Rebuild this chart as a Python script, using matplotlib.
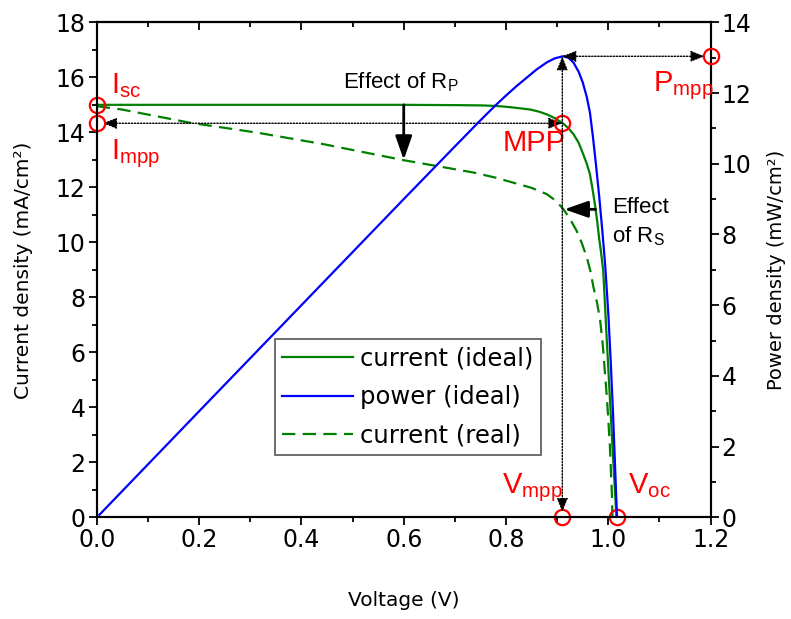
import matplotlib
matplotlib.use("Agg")
import matplotlib.pyplot as plt
from matplotlib.ticker import MultipleLocator

plt.rcParams["font.family"] = "DejaVu Sans"
plt.rcParams["mathtext.default"] = "regular"

# ideal diode curve (current density, mA/cm2)
v_ideal = [0.0, 0.2, 0.4, 0.6, 0.7, 0.75, 0.78, 0.80, 0.82, 0.847, 0.865, 0.880,
           0.896, 0.911, 0.922, 0.932, 0.942, 0.951, 0.958, 0.964, 0.969, 0.974,
           0.978, 0.982, 0.986, 0.990, 0.996, 1.002, 1.008, 1.013, 1.016]
j_ideal = [15.0, 15.0, 15.0, 15.0, 14.99, 14.98, 14.96, 14.93, 14.89, 14.83, 14.75, 14.65,
           14.51, 14.33, 14.15, 13.93, 13.62, 13.20, 12.85, 12.48, 11.95, 11.35,
           10.8, 10.15, 9.6, 8.97, 6.8, 4.7, 2.6, 0.95, 0.0]

# power density of the ideal cell (mW/cm2)
v_power = [0.005, 0.2, 0.4, 0.6, 0.7, 0.75, 0.78, 0.80, 0.82, 0.84, 0.86, 0.88,
           0.895, 0.911, 0.922, 0.932, 0.942, 0.950, 0.958, 0.964, 0.970, 0.976,
           0.982, 0.988, 0.994, 1.000, 1.005, 1.009, 1.013, 1.017]
p_ideal = [0.07, 3.0, 6.0, 9.0, 10.49, 11.23, 11.66, 11.93, 12.19, 12.43, 12.67, 12.87,
           12.98, 13.04, 13.0, 12.86, 12.6, 12.3, 11.88, 11.45, 10.75, 9.95,
           9.1, 8.15, 7.1, 5.75, 4.3, 3.0, 1.5, 0.0]

# cell with series / shunt resistance losses
v_real = [0.0, 0.049, 0.182, 0.313, 0.443, 0.599, 0.736, 0.78, 0.814, 0.85, 0.880,
          0.898, 0.912, 0.925, 0.938, 0.948, 0.958, 0.965, 0.971, 0.978, 0.984,
          0.989, 0.993, 0.997, 1.000, 1.003, 1.005, 1.007, 1.008]
j_real = [14.95, 14.83, 14.35, 13.99, 13.57, 12.99, 12.54, 12.35, 12.17, 11.98, 11.75,
          11.5, 11.21, 10.85, 10.42, 9.98, 9.45, 8.95, 8.36, 7.8, 7.16,
          6.3, 5.34, 4.4, 3.53, 2.6, 1.72, 0.85, 0.0]

# characteristic points
isc = 15.0
voc = 1.016
vmpp = 0.91
impp = 14.33
pmpp = 13.04

red = "#ff0000"
green = "#008000"
blue = "#0000ff"

fig = plt.figure(figsize=(7.91, 6.19), dpi=100)
ax = fig.add_axes([0.1224, 0.1643, 0.776, 0.7996])
ax2 = ax.twinx()

ax.set_xlim(0, 1.2)
ax.set_ylim(0, 18)
ax2.set_ylim(0, 14)

l1, = ax.plot(v_ideal, j_ideal, color=green, lw=1.6, label="current (ideal)")
l2, = ax2.plot(v_power, p_ideal, color=blue, lw=1.6, label="power (ideal)")
l3, = ax.plot(v_real, j_real, color=green, lw=1.6, dashes=(6, 3.3),
              label="current (real)")

# ticks
ax.xaxis.set_minor_locator(MultipleLocator(0.1))
ax.yaxis.set_major_locator(MultipleLocator(2))
ax.yaxis.set_minor_locator(MultipleLocator(1))
ax2.yaxis.set_major_locator(MultipleLocator(2))
ax2.yaxis.set_minor_locator(MultipleLocator(1))
ax.set_xticks([0.0, 0.2, 0.4, 0.6, 0.8, 1.0, 1.2])
ax.set_xticklabels(["0.0", "0.2", "0.4", "0.6", "0.8", "1.0", "1.2"])

for a in (ax, ax2):
    a.tick_params(which="major", direction="out", length=6, width=1.3,
                  labelsize=17, pad=2)
    a.tick_params(which="minor", direction="out", length=3.5, width=1.3)
    for s in a.spines.values():
        s.set_linewidth(1.5)

top = ax.secondary_xaxis("top")
top.xaxis.set_major_locator(MultipleLocator(0.2))
top.xaxis.set_minor_locator(MultipleLocator(0.1))
top.tick_params(which="major", direction="in", length=6, width=1.3, labeltop=False)
top.tick_params(which="minor", direction="in", length=3.5, width=1.3)
top.spines["top"].set_linewidth(1.5)

ax.set_xlabel("Voltage (V)", fontsize=14.5, labelpad=28)
ax.set_ylabel("Current density (mA/cm²)", fontsize=14.5, labelpad=16)
ax2.set_ylabel("Power density (mW/cm²)", fontsize=14, labelpad=11)

# dotted guide lines with arrowheads
guide = dict(arrowstyle="<|-|>,head_length=0.55,head_width=0.22", color="k",
             lw=1.0, linestyle=(0, (1, 1.2)), mutation_scale=15,
             shrinkA=0, shrinkB=0)
ax.annotate("", xy=(0.012, impp), xytext=(vmpp, impp), arrowprops=guide)
ax2.annotate("", xy=(vmpp, 0.15), xytext=(vmpp, pmpp), arrowprops=guide)
ax2.annotate("", xy=(1.188, pmpp), xytext=(vmpp, pmpp), arrowprops=guide)

# effect of resistances
solid = dict(arrowstyle="-|>,head_length=0.8,head_width=0.28", color="k",
             lw=2.0, mutation_scale=18, shrinkA=0, shrinkB=0)
ax.annotate("", xy=(0.6, 13.0), xytext=(0.6, 15.0), arrowprops=solid)
ax.annotate("", xy=(0.914, 11.2), xytext=(0.975, 11.2), arrowprops=solid)

txt = dict(family="Liberation Sans", fontsize=16, color="k")
ax.text(0.482, 15.61, "Effect of R$_P$", ha="left", va="baseline", **txt)
ax.text(1.008, 11.07, "Effect", ha="left", va="baseline", **txt)
ax.text(1.008, 9.99, "of R$_S$", ha="left", va="baseline", **txt)

# marked points
mk = dict(marker="o", ms=11, mfc="none", mec=red, mew=1.6, ls="none",
          clip_on=False, zorder=5)
ax.plot([0.0, 0.0, vmpp, vmpp, voc], [isc, impp, impp, 0.0, 0.0], **mk)
ax2.plot([1.2], [pmpp], **mk)

lab = dict(family="Liberation Sans", fontsize=21, color=red, ha="left",
           va="baseline")
ax.text(0.028, 15.43, "I$_{sc}$", **lab)
ax.text(0.028, 13.03, "I$_{mpp}$", **lab)
ax.text(0.794, 13.32, "MPP", **lab)
ax.text(0.792, 0.88, "V$_{mpp}$", **lab)
ax.text(1.039, 0.88, "V$_{oc}$", **lab)
ax2.text(1.087, 12.05, "P$_{mpp}$", **lab)

leg = ax.legend(handles=[l1, l2, l3], loc="lower left",
                bbox_to_anchor=(0.29, 0.1255), borderaxespad=0,
                fontsize=17.5, handlelength=2.9, handletextpad=0.3,
                labelspacing=0.6, borderpad=0.3, fancybox=False,
                framealpha=1, edgecolor="#555555")
leg.get_frame().set_linewidth(1.2)
leg.set_zorder(1)

fig.savefig("out.png", dpi=100)
